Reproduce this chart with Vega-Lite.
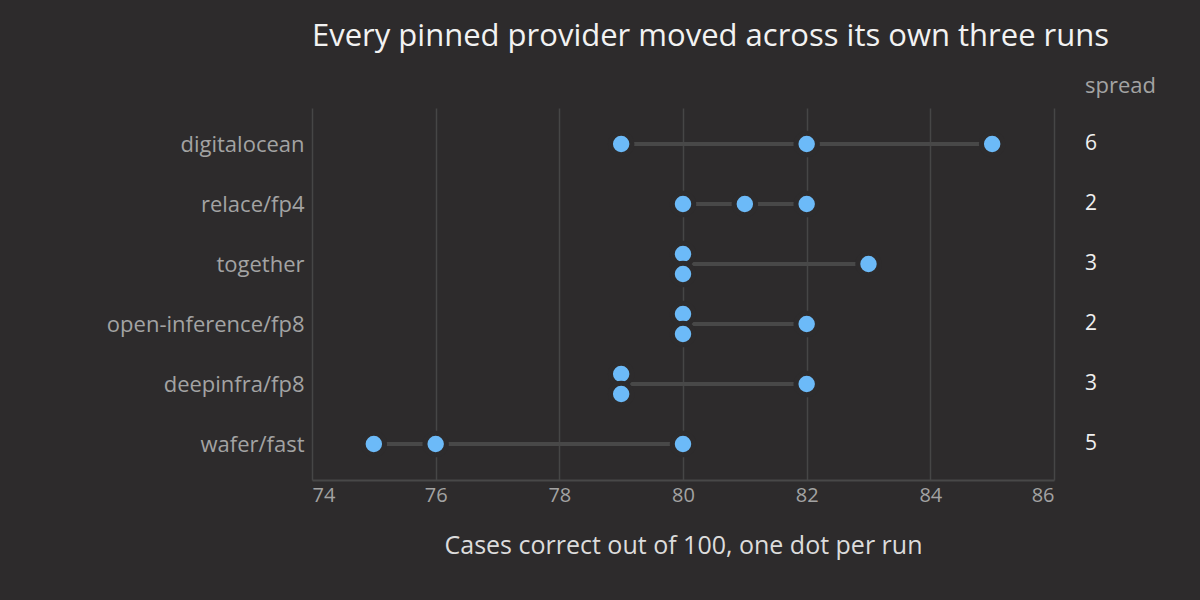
{
  "$schema": "https://vega.github.io/schema/vega-lite/v6.json",
  "autosize": "none",
  "width": 742,
  "height": 372,
  "padding": {"left": 312, "top": 108, "right": 146, "bottom": 120},
  "background": "#2d2b2c",
  "config": {
    "view": {"stroke": null},
    "font": "Open Sans"
  },
  "title": {
    "text": "Every pinned provider moved across its own three runs",
    "anchor": "start",
    "frame": "group",
    "offset": 22,
    "fontSize": 31,
    "fontWeight": "normal",
    "color": "#f2f2f2"
  },
  "datasets": {
    "runs": [
      {"provider": "digitalocean", "score": 79},
      {"provider": "digitalocean", "score": 82},
      {"provider": "digitalocean", "score": 85},
      {"provider": "relace/fp4", "score": 80},
      {"provider": "relace/fp4", "score": 81},
      {"provider": "relace/fp4", "score": 82},
      {"provider": "together", "score": 80},
      {"provider": "together", "score": 80},
      {"provider": "together", "score": 83},
      {"provider": "open-inference/fp8", "score": 80},
      {"provider": "open-inference/fp8", "score": 80},
      {"provider": "open-inference/fp8", "score": 82},
      {"provider": "deepinfra/fp8", "score": 79},
      {"provider": "deepinfra/fp8", "score": 79},
      {"provider": "deepinfra/fp8", "score": 82},
      {"provider": "wafer/fast", "score": 75},
      {"provider": "wafer/fast", "score": 76},
      {"provider": "wafer/fast", "score": 80}
    ]
  },
  "data": {"name": "runs"},
  "encoding": {
    "y": {
      "field": "provider",
      "type": "ordinal",
      "sort": ["digitalocean", "relace/fp4", "together", "open-inference/fp8", "deepinfra/fp8", "wafer/fast"],
      "scale": {"type": "point", "padding": 0.6},
      "axis": {
        "title": null,
        "ticks": false,
        "domain": false,
        "grid": false,
        "labelPadding": 8,
        "labelFontSize": 22,
        "labelLimit": 300,
        "labelColor": "#a3a3a3"
      }
    }
  },
  "layer": [
    {
      "transform": [
        {"aggregate": [{"op": "min", "field": "score", "as": "lo"}, {"op": "max", "field": "score", "as": "hi"}], "groupby": ["provider"]}
      ],
      "mark": {"type": "rule", "color": "#484848", "strokeWidth": 4},
      "encoding": {
        "x": {
          "field": "lo",
          "type": "quantitative",
          "scale": {"domain": [74, 86], "nice": false, "zero": false},
          "axis": {
            "title": "Cases correct out of 100, one dot per run",
            "titleFontSize": 25,
            "titleFontWeight": "normal",
            "titleColor": "#dcdcdc",
            "titlePadding": 28,
            "values": [74, 76, 78, 80, 82, 84, 86],
            "format": "d",
            "labelFontSize": 20,
            "labelColor": "#a3a3a3",
            "labelPadding": 5,
            "ticks": false,
            "domainColor": "#484848",
            "domainWidth": 2,
            "grid": true,
            "gridColor": "#464646",
            "gridWidth": 1.5
          }
        },
        "x2": {"field": "hi"}
      }
    },
    {
      "transform": [
        {"window": [{"op": "row_number", "as": "idx"}], "groupby": ["provider", "score"]},
        {"joinaggregate": [{"op": "count", "as": "n"}], "groupby": ["provider", "score"]},
        {"calculate": "datum.idx - (datum.n + 1) / 2", "as": "jitter"}
      ],
      "mark": {"type": "point", "filled": true, "fill": "#6cbaf8", "opacity": 1, "stroke": "#2d2b2c", "strokeWidth": 5, "size": 460},
      "encoding": {
        "x": {"field": "score", "type": "quantitative"},
        "yOffset": {"field": "jitter", "type": "quantitative", "scale": {"domain": [-1, 1], "range": [-20, 20]}}
      }
    },
    {
      "transform": [
        {"aggregate": [{"op": "min", "field": "score", "as": "lo"}, {"op": "max", "field": "score", "as": "hi"}], "groupby": ["provider"]},
        {"calculate": "datum.hi - datum.lo", "as": "spread"}
      ],
      "mark": {"type": "text", "align": "left", "baseline": "middle", "dx": 31, "fontSize": 21, "color": "#f0f0f0"},
      "encoding": {
        "x": {"datum": 86},
        "text": {"field": "spread", "type": "quantitative"}
      }
    },
    {
      "transform": [{"filter": "datum.provider === 'digitalocean'"}, {"aggregate": [], "groupby": ["provider"]}],
      "mark": {"type": "text", "align": "left", "baseline": "middle", "dx": 31, "dy": -58, "fontSize": 22, "color": "#a3a3a3", "text": "spread"},
      "encoding": {
        "x": {"datum": 86}
      }
    }
  ]
}
